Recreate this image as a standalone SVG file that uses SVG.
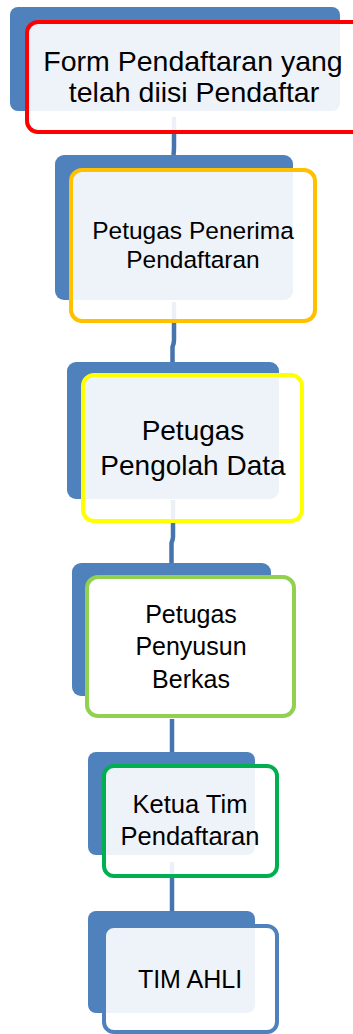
<svg xmlns="http://www.w3.org/2000/svg" width="353" height="1034" viewBox="0 0 353 1034">
<style>
.back{fill:#4F81BD}
.front{fill:#FFFFFF;fill-opacity:0.9;stroke-width:4}
.solid{fill:#FFFFFF;stroke-width:4}
.t{font-family:"Liberation Sans",Arial,sans-serif;fill:#000;text-anchor:middle}
.c{fill:none;stroke:#4674AD;stroke-width:4.5}
</style>
<rect width="353" height="1034" fill="#FFFFFF"/>
<g id="connectors">
<path class="c" d="M174 117 L174 147 Q174 150 173.5 155"/>
<path class="c" d="M174 302 L174 340 Q174 343 172.5 347 L172.5 362"/>
<path class="c" d="M173 500 L173 537 Q173 539 171.5 543 L171.5 563"/>
<path class="c" d="M172 719 L172 752"/>
<path class="c" d="M172 862 L172 911"/>
</g>
<g id="node1">
<rect class="back" x="10" y="7" width="330" height="104" rx="8"/>
<rect class="front" x="27" y="22" width="336" height="110" rx="11" stroke="#FF0000"/>
<text class="t" font-size="28.5" x="193" y="71">Form Pendaftaran yang</text>
<text class="t" font-size="28.5" x="194" y="102">telah diisi Pendaftar</text>
</g>
<g id="node2">
<rect class="back" x="55" y="155" width="238" height="145" rx="9"/>
<rect class="front" x="71" y="170" width="244" height="151" rx="11" stroke="#FFC000"/>
<text class="t" font-size="24.5" x="193" y="239">Petugas Penerima</text>
<text class="t" font-size="24.5" x="193" y="268">Pendaftaran</text>
</g>
<g id="node3">
<rect class="back" x="67" y="362" width="212" height="137" rx="9"/>
<rect class="front" x="83" y="375" width="219" height="146" rx="11" stroke="#FFFF00"/>
<text class="t" font-size="28" x="193" y="440">Petugas</text>
<text class="t" font-size="28" x="193" y="475">Pengolah Data</text>
</g>
<g id="node4">
<rect class="back" x="72" y="563" width="199" height="133" rx="9"/>
<rect class="solid" x="87" y="577" width="207" height="139" rx="11" stroke="#92D050"/>
<text class="t" font-size="25" x="191" y="623">Petugas</text>
<text class="t" font-size="25" x="191" y="655">Penyusun</text>
<text class="t" font-size="25" x="191" y="688">Berkas</text>
</g>
<g id="node5">
<rect class="back" x="88" y="752" width="167" height="103" rx="8"/>
<rect class="front" x="104" y="766" width="173" height="110" rx="10" stroke="#00B050"/>
<text class="t" font-size="25.5" x="190" y="813">Ketua Tim</text>
<text class="t" font-size="25.5" x="190" y="845">Pendaftaran</text>
</g>
<g id="node6">
<rect class="back" x="88" y="911" width="167" height="102" rx="8"/>
<rect class="front" x="104" y="926" width="173" height="106" rx="10" stroke="#4F81BD" stroke-width="3.5"/>
<text class="t" font-size="25" x="190" y="988">TIM AHLI</text>
</g>
</svg>
